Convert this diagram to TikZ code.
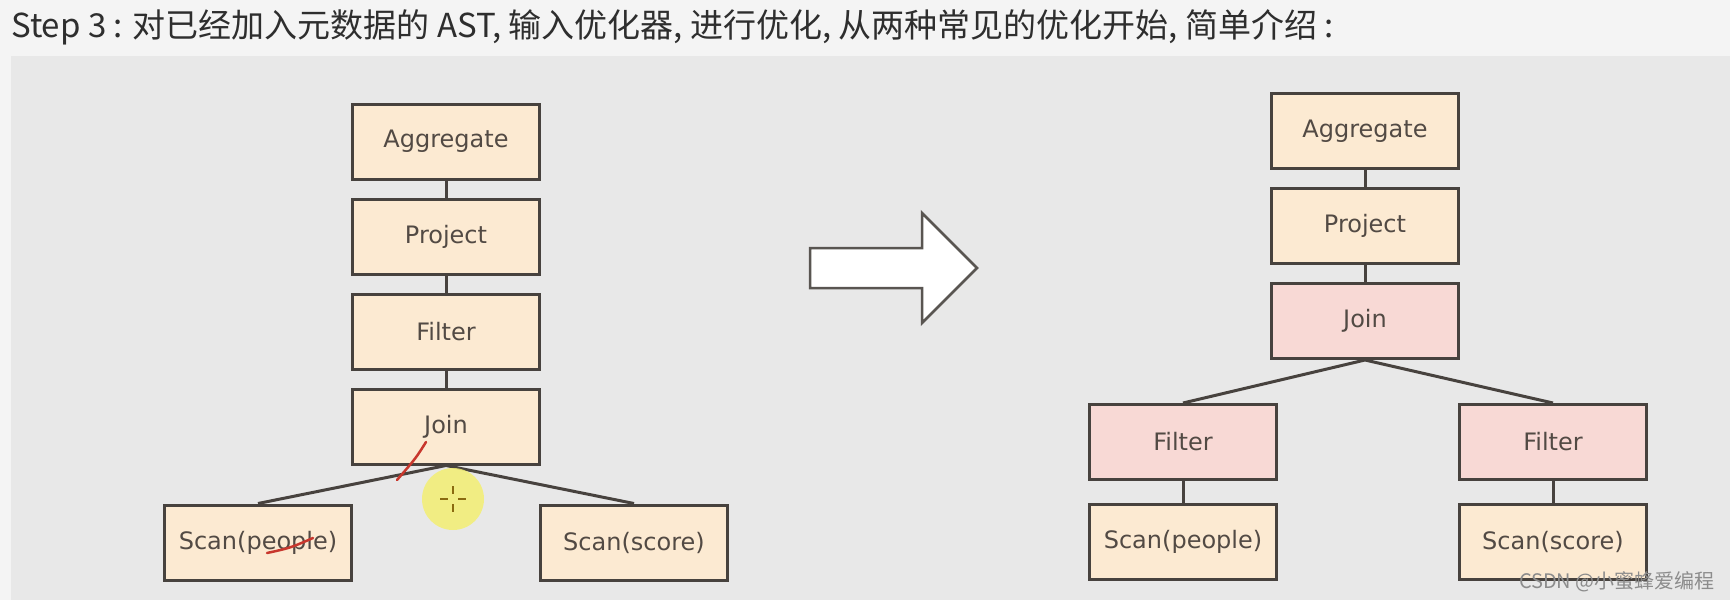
\documentclass[tikz,border=0pt]{standalone}
\usepackage{fontspec}
\usepackage{xcolor}
\usetikzlibrary{positioning}
\setmainfont{DejaVu Sans}
\newfontfamily\titlefont{Noto Sans CJK SC}
\definecolor{PlanPeach}{HTML}{FCEAD2}
\definecolor{PlanPink}{HTML}{F8D9D5}
\definecolor{PlanEdge}{HTML}{47423E}
\definecolor{PlanText}{HTML}{524A44}
\definecolor{SlideGray}{HTML}{E8E8E8}
\definecolor{PageGray}{HTML}{F4F4F4}
\definecolor{InkRed}{HTML}{C8372D}
\definecolor{CursorYellow}{HTML}{F3EF72}
\definecolor{CursorMark}{HTML}{8A6A10}

\begin{document}
\begin{tikzpicture}[
    x=1pt, y=-1pt,
    plannode/.style={
      draw=PlanEdge,
      line width=3pt,
      fill=PlanPeach,
      text=PlanText,
      minimum width=187pt,
      minimum height=75pt,
      inner sep=0pt,
      font=\fontsize{24}{28}\selectfont
    },
    pushed/.style={plannode, fill=PlanPink},
    planlink/.style={draw=PlanEdge, line width=3pt}
  ]
    % page and slide
    \fill[PageGray] (0,0) rectangle (1730,600);
    \fill[SlideGray] (11,56) rectangle (1730,600);
    \node[
      anchor=west,
      inner sep=0pt,
      text=black!82,
      font=\titlefont\fontsize{33}{37}\selectfont
    ] (title) at (11,27) {Step 3 : 对已经加入元数据的 AST, 输入优化器, 进行优化, 从两种常见的优化开始, 简单介绍 :};

    % plan before
    \node[plannode] (aggL) at (446,141.5) {Aggregate};
    \node[plannode, below=17pt of aggL] (projL) {Project};
    \node[plannode, below=17pt of projL] (filtL) {Filter};
    \node[plannode, below=17pt of filtL] (joinL) {Join};
    \node[plannode, below=38pt of joinL, xshift=-188pt] (scanPL) {Scan(people)};
    \node[plannode, below=38pt of joinL, xshift=188pt] (scanSL) {Scan(score)};
    \draw[planlink] (aggL) -- (projL) (projL) -- (filtL) (filtL) -- (joinL);
    \draw[planlink] (joinL.south) -- (scanPL.north) (joinL.south) -- (scanSL.north);

    % arrow
    \draw[draw=PlanEdge!90, line width=2.5pt, fill=white, line join=miter]
      (810,248) -- (922,248) -- (922,213) -- (977,268) -- (922,323) -- (922,288) -- (810,288) -- cycle;

    % plan after
    \node[plannode] (aggR) at (1365,131) {Aggregate};
    \node[plannode, below=17pt of aggR] (projR) {Project};
    \node[pushed, below=17pt of projR] (joinR) {Join};
    \node[pushed, below=43pt of joinR, xshift=-182pt] (filtPR) {Filter};
    \node[pushed, below=43pt of joinR, xshift=188pt] (filtSR) {Filter};
    \node[plannode, below=22pt of filtPR] (scanPR) {Scan(people)};
    \node[plannode, below=22pt of filtSR] (scanSR) {Scan(score)};
    \draw[planlink] (aggR) -- (projR) (projR) -- (joinR);
    \draw[planlink] (joinR.south) -- (filtPR.north) (joinR.south) -- (filtSR.north);
    \draw[planlink] (filtPR) -- (scanPR) (filtSR) -- (scanSR);

    % pen marks and cursor
    \draw[InkRed, line width=2.5pt, line cap=round] (426,442) .. controls (416,458) .. (397,480);
    \draw[InkRed, line width=2.5pt, line cap=round] (267,553) .. controls (290,548) .. (313,538);
    \fill[CursorYellow, opacity=0.85] (453,499) circle (31pt);
    \draw[CursorMark, line width=1.8pt]
      (453,486) -- (453,494) (453,504) -- (453,512) (440,499) -- (448,499) (458,499) -- (466,499);

    \node[
      anchor=east,
      inner sep=0pt,
      text=black!45,
      font=\titlefont\fontsize{20}{24}\selectfont
    ] (mark) at (1715,582) {CSDN @小蜜蜂爱编程};
  \end{tikzpicture}
\end{document}
